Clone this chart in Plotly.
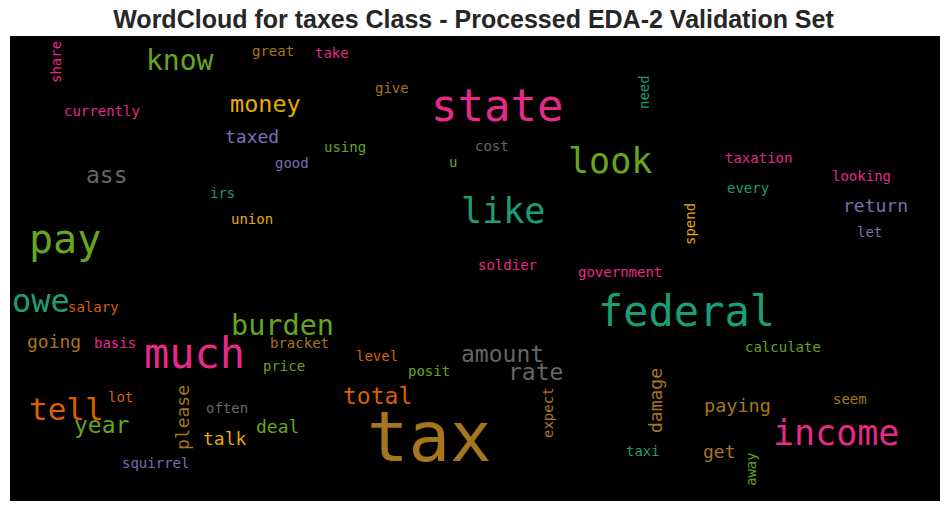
import plotly.graph_objects as go

# wordcloud words (pixel coords inside the black 930x465 canvas)
words = ["know", "great", "money", "currently", "taxed", "ass", "good", "irs", "union", "pay",
         "take", "give", "state", "using", "cost", "u", "look", "like", "soldier", "government",
         "taxation", "every", "looking", "return", "let", "owe", "salary", "going", "basis", "much",
         "burden", "bracket", "price", "tell", "lot", "year", "often", "talk", "deal", "squirrel",
         "level", "posit", "amount", "rate", "total", "tax", "federal", "calculate", "paying", "seem",
         "income", "taxi", "get",
         "share", "need", "spend", "please", "expect", "damage", "away"]

# x centre of each word
word_x = [170, 262.5, 255, 91.5, 241.5, 97, 281.5, 212.5, 242, 55,
          321.5, 382, 486.5, 335, 482, 443, 600, 493, 497, 609.5,
          748, 737.5, 851, 865, 859, 30.5, 83.5, 43.5, 104.5, 184,
          272, 289, 274, 56, 110, 91.5, 216.5, 215, 267.5, 145.5,
          367, 418.5, 492.5, 525.5, 367, 419, 676, 773, 727.5, 840,
          826, 633, 709,
          46, 634, 680, 172, 538, 645, 741]

# baseline for horizontal words, centre for vertical ones
word_y = [34, 20, 76, 80, 107, 147, 132, 162, 188, 217,
          22, 57, 85, 116, 115, 131, 137, 187, 234, 241,
          127, 157, 145, 176, 201, 276, 276, 312, 312, 332,
          299, 312, 335, 384, 366, 397, 377, 409, 397, 432,
          325, 340, 326, 344, 368, 425, 290, 316, 376, 368,
          409, 420, 422,
          26, 56, 188, 382, 377, 365, 433]

word_size = [28, 14, 23.5, 14, 18, 23, 14, 14, 14, 40,
             14, 14, 44, 14, 14, 14, 35, 35, 14, 14,
             14, 14, 14, 18, 14, 32, 14, 18, 14, 42,
             28.5, 14, 14, 31, 14, 23, 14, 18, 18, 14,
             14, 14, 23, 23, 23, 69, 42, 14, 18.5, 14,
             35, 14, 18,
             14, 14, 14, 18, 14, 18, 14]

word_color = ["green", "brown", "yellow", "pink", "purple", "gray", "purple", "teal", "yellow", "green",
              "pink", "brown", "pink", "green", "gray", "green", "green", "teal", "pink", "pink",
              "pink", "teal", "pink", "purple", "purple", "teal", "orange", "brown", "pink", "pink",
              "green", "brown", "green", "orange", "orange", "green", "gray", "yellow", "green", "purple",
              "orange", "green", "gray", "gray", "orange", "brown", "teal", "green", "brown", "brown",
              "pink", "teal", "brown",
              "pink", "teal", "yellow", "brown", "brown", "brown", "green"]

vertical = ["share", "need", "spend", "please", "expect", "damage", "away"]

# Dark2 colormap
dark2 = {"teal": "#1b9e77", "orange": "#d95f02", "purple": "#7570b3", "pink": "#e7298a",
         "green": "#66a61e", "yellow": "#e6ab02", "brown": "#a6761d", "gray": "#666666"}

fig = go.Figure()
# invisible trace so the axes exist
fig.add_trace(go.Scatter(x=[0, 930], y=[0, 465], mode="markers",
                         marker=dict(opacity=0), hoverinfo="skip", showlegend=False))

for w, x, y, s, c in zip(words, word_x, word_y, word_size, word_color):
    if w in vertical:
        angle = -90
        yc = y
    else:
        angle = 0
        yc = y - 0.35 * s  # move from baseline to middle of the text box
    fig.add_annotation(x=x, y=yc, xref="x", yref="y", text=w, showarrow=False,
                       textangle=angle, xanchor="center", yanchor="middle",
                       font=dict(family="DejaVu Sans Mono", size=s, color=dark2[c]))

# the page body adds an 8px offset, margins account for it
fig.update_layout(
    width=950, height=511,
    margin=dict(l=2, r=18, t=28, b=18),
    paper_bgcolor="white", plot_bgcolor="black",
    title=dict(text="<b>WordCloud for taxes Class - Processed EDA-2 Validation Set</b>",
               x=0.49, xanchor="center", y=0.978, yanchor="middle", yref="container",
               font=dict(family="Liberation Sans, Arial", size=25, color="#262626")),
)
fig.update_xaxes(range=[0, 930], visible=False, fixedrange=True)
fig.update_yaxes(range=[465, 0], visible=False, fixedrange=True)

fig.write_html("out.html")
